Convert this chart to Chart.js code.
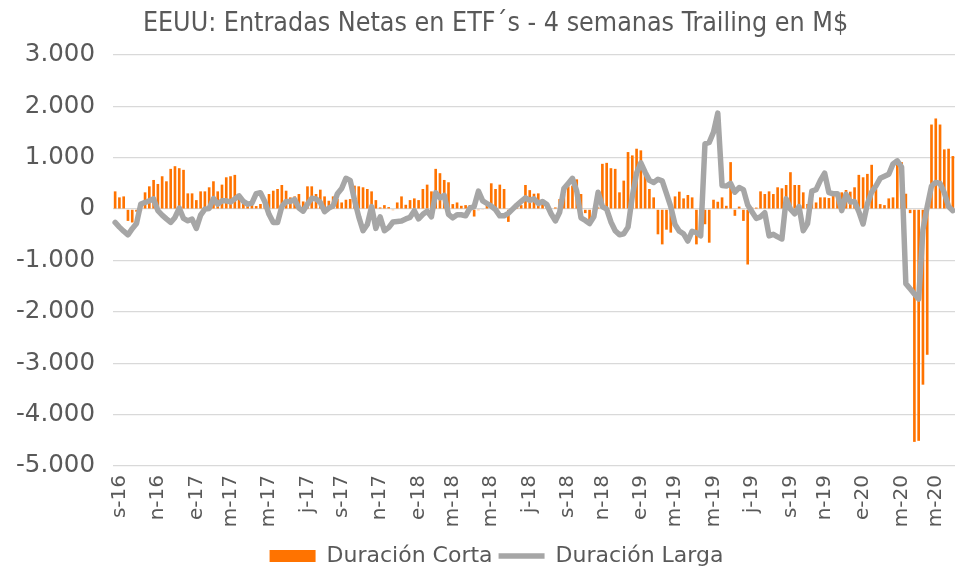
<!DOCTYPE html>
<html>
<head>
<meta charset="utf-8">
<script src="https://cdn.jsdelivr.net/npm/chart.js@4.4.1/dist/chart.umd.min.js"></script>
<style>
  body { margin: 0; background: #fff; }
  #wrap { width: 955px; height: 569px; }
</style>
</head>
<body>
<div id="wrap"><canvas id="etfChart" width="955" height="569"></canvas></div>
<script>
// --- DATA ---
const titleText = 'EEUU: Entradas Netas en ETF´s - 4 semanas Trailing en M$';
const seriesNames = ['Duración Corta', 'Duración Larga'];

// etiquetas del eje X (cada 2 meses)
const tickLabels = ['s-16', 'n-16', 'e-17', 'm-17', 'm-17', 'j-17', 's-17', 'n-17', 'e-18', 'm-18', 'm-18', 'j-18',
  's-18', 'n-18', 'e-19', 'm-19', 'm-19', 'j-19', 's-19', 'n-19', 'e-20', 'm-20', 'm-20'];

// semana inicial (viernes)
const firstWeek = '2016-08-26';

// Duración Corta (barras), M$
const corta = [
  346, 229, 248, -229, -260, -50, -30, 327, 444, 568,
  490, 640, 542, 784, 836, 797, 765, 307, 307, 176,
  346, 346, 425, 542, 346, 477, 620, 640, 667, 261,
  130, 98, 80, 60, 100, 150, 294, 359, 392, 470,
  359, 229, 248, 294, 150, 444, 444, 294, 379, 248,
  163, 248, 200, 130, 183, 196, 457, 444, 425, 392,
  346, 176, 33, 78, 40, -20, 130, 248, 85, 176,
  209, 176, 392, 477, 346, 784, 700, 568, 523, 98,
  130, 65, 78, 78, -144, -20, -10, 130, 503, 392,
  477, 392, -248, 0, 65, 78, 470, 370, 300, 307,
  163, 98, 0, 33, 196, 294, 444, 457, 580, 294,
  -78, -248, 0, 33, 882, 901, 797, 784, 327, 555,
  1111, 1046, 1176, 1144, 719, 392, 229, -490, -686, -400,
  -457, 248, 340, 209, 275, 229, -686, -523, -294, -653,
  183, 144, 229, 65, 915, -130, 50, -229, -1078, 30,
  30, 346, 294, 346, 294, 425, 405, 470, 719, 470,
  470, 327, 100, 196, 130, 229, 229, 216, 261, 216,
  327, 373, 340, 425, 667, 620, 686, 863, 392, 98,
  78, 209, 229, 928, 915, 300, -78, -4530, -4510, -3417,
  -2835, 1647, 1765, 1647, 1163, 1176, 1033
];

// Duración Larga (linea), M$
const larga = [
  -259, -350, -430, -500, -380, -280, 100, 130, 165, 200,
  -30, -117, -190, -259, -162, 20, -181, -227, -194, -375,
  -117, 0, 13, 207, 97, 162, 162, 140, 200, 259,
  150, 97, 117, 300, 320, 150, -100, -260, -260, 50,
  150, 150, 190, 20, -40, 100, 210, 200, 130, -50,
  20, 65, 300, 401, 600, 560, 180, -150, -420, -300,
  50, -375, -150, -420, -360, -250, -240, -230, -190, -160,
  -30, -190, -100, -40, -150, 320, 220, 270, -100, -170,
  -110, -110, -130, 20, 50, 350, 160, 110, 60, -10,
  -130, -130, -80, 0, 80, 150, 220, 170, 200, 110,
  150, 90, -90, -230, -60, 400, 500, 600, 350, -170,
  -220, -280, -150, 330, 50, 0, -250, -420, -500, -480,
  -350, 250, 700, 900, 720, 560, 520, 580, 550, 300,
  50, -300, -430, -480, -620, -430, -460, -520, 1270, 1300,
  1500, 1870, 460, 450, 500, 330, 420, 380, 80, -50,
  -180, -150, -70, -520, -490, -540, -580, 200, 0, -90,
  50, -420, -280, 350, 380, 560, 700, 320, 300, 300,
  -30, 290, 140, 150, -50, -290, 100, 330, 450, 600,
  640, 680, 880, 940, 820, -1450, -1550, -1650, -1750, -400,
  50, 450, 520, 500, 320, 50, -30
];

// --- CATEGORIAS (semanas) ---
const start = new Date(firstWeek + 'T00:00:00Z');
const weeks = corta.map((_, i) => new Date(start.getTime() + i * 7 * 86400000));
const categories = weeks.map(d => d.toISOString().slice(0, 10));

// primera semana de cada mes impar (s, n, e, m, m, j) lleva etiqueta
const tickMap = {};
let k = 0;
weeks.forEach((d, i) => {
  const m = d.getUTCMonth();
  const prev = i ? weeks[i - 1].getUTCMonth() : d.getUTCMonth();
  if (m !== prev && m % 2 === 0 && k < tickLabels.length) tickMap[i] = tickLabels[k++];
});

const fmt = v => String(v).replace(/\B(?=(\d{3})+(?!\d))/g, '.');

// mueve titulo y leyenda un poco (como en el original)
const shiftBoxes = {
  id: 'shiftBoxes',
  afterLayout(chart) {
    const t = chart.titleBlock, l = chart.legend;
    t.left += 18; t.right += 18;
    l.left += 19; l.right += 19;
    l.top += 8; l.bottom += 8;
  }
};

Chart.defaults.font.family = "'DejaVu Sans', sans-serif";
Chart.defaults.color = '#595959';

const ctx = document.getElementById('etfChart').getContext('2d');
new Chart(ctx, {
  type: 'bar',
  data: {
    labels: categories,
    datasets: [
      {
        label: seriesNames[0],
        data: corta,
        backgroundColor: '#FF7300',
        borderWidth: 0,
        barPercentage: 0.62,
        categoryPercentage: 1,
        pointStyle: 'rect',
        order: 2
      },
      {
        type: 'line',
        label: seriesNames[1],
        data: larga,
        borderColor: '#A6A6A6',
        backgroundColor: '#A6A6A6',
        borderWidth: 5.5,
        borderJoinStyle: 'round',
        borderCapStyle: 'round',
        pointRadius: 0,
        tension: 0,
        pointStyle: 'line',
        order: 1
      }
    ]
  },
  plugins: [shiftBoxes],
  options: {
    responsive: false,
    animation: false,
    layout: { padding: 0 },
    plugins: {
      title: {
        display: true,
        text: titleText,
        color: '#595959',
        font: { family: "'DejaVu Sans Condensed', 'Liberation Sans Narrow', sans-serif", size: 26.6, weight: 'normal' },
        padding: { top: 8, bottom: 15.1 }
      },
      legend: {
        position: 'bottom',
        labels: {
          sort: (a, b) => a.datasetIndex - b.datasetIndex,
          usePointStyle: true,
          pointStyleWidth: 46,
          boxHeight: 12,
          padding: 6,
          color: '#595959',
          font: { size: 22 }
        }
      },
      tooltip: { enabled: false }
    },
    scales: {
      x: {
        grid: { display: false, drawTicks: false },
        border: { display: false },
        afterCalculateLabelRotation: s => { s.labelRotation = 90; },
        afterFit: s => { s.height = 65; s.paddingRight = 0; s.paddingLeft = 0; },
        ticks: {
          autoSkip: false,
          maxRotation: 90,
          minRotation: 90,
          padding: 9,
          font: { size: 20 },
          color: '#595959',
          callback: (v, i) => tickMap[i] || ''
        }
      },
      y: {
        min: -5000,
        max: 3000,
        afterFit: s => { s.width = 113; },
        grid: { color: '#D9D9D9', lineWidth: 1.3, drawTicks: false },
        border: { display: false },
        ticks: {
          stepSize: 1000,
          padding: 18,
          font: { size: 24.5 },
          color: '#595959',
          callback: v => fmt(v)
        }
      }
    }
  }
});
</script>
</body>
</html>
